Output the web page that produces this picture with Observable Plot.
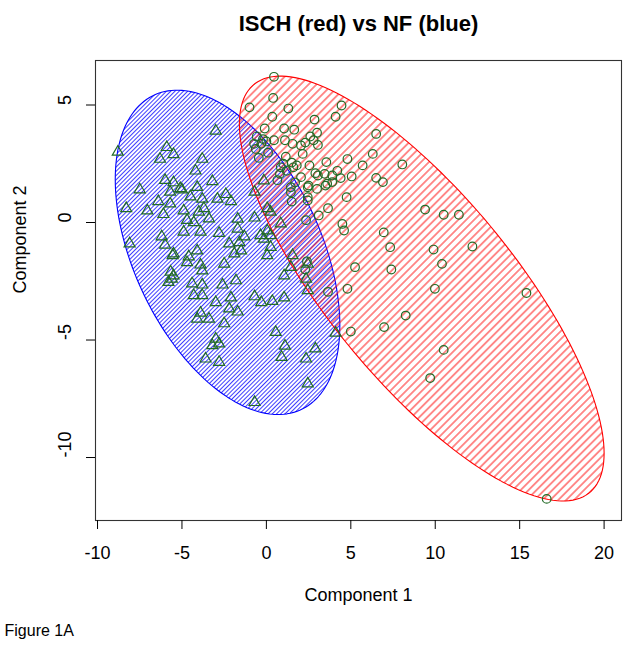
<!DOCTYPE html>
<html><head><meta charset="utf-8">
<script src="https://cdn.jsdelivr.net/npm/d3@7"></script>
<script src="https://cdn.jsdelivr.net/npm/@observablehq/plot@0.6"></script>
<style>html,body{margin:0;padding:0;background:#fff} svg{display:block}</style>
</head><body><div id="chart"></div>
<script>
// NF (blue ellipse) – triangles: [Component 1, Component 2]
const nfPoints = [
[-8.8,3.0],[-5.9,3.2],[-5.5,2.9],[-6.3,2.7],[-3.0,3.9],[-3.8,2.7],[-4.2,2.2],[-7.5,1.4],[-6.0,1.8],[-5.5,1.7],
[-5.1,1.45],[-4.1,1.5],[-3.2,1.75],[-5.7,1.3],[-5.0,1.4],[-4.5,1.1],[-2.4,1.2],[-2.9,1.0],[-2.1,0.9],[-6.4,0.9],
[-5.7,0.8],[-8.3,0.6],[-7.05,0.5],[-6.1,0.35],[-3.7,0.6],[-4.0,0.45],[-3.4,0.16],[-4.7,0.1],[-4.3,0.0],[-1.7,0.15],
[-0.7,0.2],[-0.15,1.78],[-0.7,1.3],[-3.8,1.0],[-4.9,0.5],[-4.9,-0.4],[-3.9,-0.4],[-2.8,-0.45],[-1.7,-0.27],[-1.3,-0.6],
[-0.35,-0.55],[0.05,-0.35],[-6.2,-0.6],[-6.0,-0.95],[-8.1,-0.9],[-5.5,-1.33],[-2.2,-0.9],[-1.6,-0.85],[-1.5,-1.2],[-0.15,-0.7],
[0.05,-1.4],[-4.1,-1.2],[-4.7,-1.7],[-3.9,-1.8],[-2.5,-1.76],[-3.8,-2.05],[-5.67,-2.1],[-5.5,-2.26],[-5.8,-2.54],[-5.6,-2.4],
[-4.4,-2.6],[-3.8,-2.65],[-2.6,-2.65],[-1.8,-2.47],[-4.3,-3.1],[-3.8,-3.1],[-3.0,-3.4],[-2.1,-3.2],[-0.7,-3.15],[-0.3,-3.4],
[0.35,-3.35],[1.05,-3.2],[-1.7,-3.8],[-2.2,-3.67],[-4.1,-4.1],[-3.9,-3.85],[-3.4,-4.1],[-2.5,-4.3],[0.55,-4.67],[4.1,-4.7],
[-3.0,-4.95],[-3.2,-5.23],[-2.8,-5.16],[-3.6,-5.8],[-2.8,-5.94],[1.1,-5.25],[0.9,-5.73],[2.35,-5.8],[2.9,-5.37],[2.45,-6.86],
[-0.7,-7.65],[0.85,-0.05],[0.25,-0.55],[0.25,-1.05],[1.55,-1.4],[1.45,-1.9],[1.05,-2.26],[2.45,-1.76],[2.35,-2.4],[2.45,-2.89],
[-1.9,-1.33],[0.25,0.45],[0.05,0.6],[-5.55,-1.4],[-4.6,-1.45]
];
// ISCH (red ellipse) – circles
const ischPoints = [
[0.45,6.2],[0.4,5.3],[-1.0,4.9],[1.3,4.85],[4.45,4.98],[4.1,4.5],[0.35,4.5],[2.85,4.38],[-0.1,4.0],[1.05,4.0],
[1.65,3.95],[3.0,3.82],[2.6,3.66],[6.5,3.77],[-0.57,3.66],[-0.73,3.35],[-0.3,3.35],[0.45,3.5],[1.1,3.5],[1.55,3.35],
[2.05,3.28],[2.8,3.5],[3.05,3.3],[0.1,2.97],[-0.45,2.75],[1.15,2.8],[2.15,2.92],[4.8,2.7],[6.3,2.92],[8.05,2.47],
[1.0,2.5],[1.5,2.55],[1.8,2.43],[0.85,2.35],[2.55,2.43],[3.55,2.57],[4.2,2.2],[5.7,2.43],[0.8,2.07],[2.05,1.93],
[2.9,2.1],[3.05,2.0],[3.45,2.07],[3.9,2.0],[4.4,1.89],[5.05,1.96],[6.5,1.9],[6.9,1.72],[1.45,1.5],[2.45,1.5],
[3.0,1.43],[3.6,1.65],[1.45,1.29],[2.45,1.08],[2.45,0.94],[4.75,1.08],[1.5,0.89],[3.65,0.61],[3.1,0.3],[2.35,0.1],
[4.5,-0.06],[4.6,-0.34],[6.95,-0.42],[7.33,-1.05],[5.25,-1.9],[7.4,-2.0],[4.8,-2.82],[3.65,-2.95],[2.4,-1.65],[2.3,-2.0],
[8.25,-3.96],[6.97,-4.45],[5.0,-4.64],[9.4,0.55],[10.5,0.33],[11.4,0.33],[9.9,-1.15],[12.2,-1.02],[10.4,-1.76],[9.98,-2.82],
[15.4,-3.0],[10.5,-5.42],[9.7,-6.62],[16.6,-11.76],[-0.63,3.13],[1.2,2.2],[1.6,2.35],[0.65,1.8],[2.5,1.57],[3.5,1.57],
[3.9,1.72],[-0.2,3.55],[0.0,3.45],[2.3,3.4],[1.7,1.7]
];
// Cluster ellipses: centre, half-extent along x and y, coupling (cos of phase)
const ellipseGroups   = ["NF", "ISCH"];
const ellipseCenterX  = [-2.3, 9.2];
const ellipseCenterY  = [-1.27, -2.81];
const ellipseHalfX    = [6.65, 10.8];
const ellipseHalfY    = [6.9, 9.04];
const ellipseCoupling = [0.45, 0.775];

const xTicks = [-10, -5, 0, 5, 10, 15, 20];
const yTicks = [5, 0, -5, -10];
const titleText = "ISCH (red) vs NF (blue)";
const xLabel = "Component 1";
const yLabel = "Component 2";
const captionText = "Figure 1A";

function ellipsePath(i) {
  const out = [];
  const phi = Math.acos(ellipseCoupling[i]);
  const n = 180;
  for (let k = 0; k <= n; k++) {
    const t = 2 * Math.PI * k / n;
    out.push({x: ellipseCenterX[i] + ellipseHalfX[i] * Math.cos(t),
              y: ellipseCenterY[i] - ellipseHalfY[i] * Math.cos(t + phi)});
  }
  return out;
}
const blueEllipse = ellipsePath(0);
const redEllipse = ellipsePath(1);

const font = "'Liberation Sans', Arial, Helvetica, sans-serif";
const ptColor = "#226b26";

const svg = Plot.plot({
  width: 629, height: 656,
  marginLeft: 95, marginRight: 8, marginTop: 60, marginBottom: 136,
  style: {fontFamily: font, background: "#fff", color: "#000"},
  x: {domain: [-10.12, 21.03]},
  y: {domain: [-12.68, 6.894]},
  marks: [
    Plot.line(blueEllipse, {x: "x", y: "y", fill: "url(#hatchBlue)", stroke: "#0000ff", strokeWidth: 1.1}),
    Plot.line(redEllipse, {x: "x", y: "y", fill: "url(#hatchRed)", stroke: "#ff0000", strokeWidth: 1.1}),
    Plot.dot(nfPoints, {x: d => d[0], y: d => d[1], symbol: "triangle", r: 4.1, stroke: ptColor, strokeWidth: 1.2, fill: "none"}),
    Plot.dot(ischPoints, {x: d => d[0], y: d => d[1], symbol: "circle", r: 4.3, stroke: ptColor, strokeWidth: 1.2, fill: "none"}),
    Plot.frame({stroke: "#333", strokeWidth: 1.1}),
    Plot.axisX({ticks: xTicks, tickSize: 9, tickPadding: 17, fontSize: 18, tickFormat: d => String(d), label: null}),
    Plot.axisY({ticks: yTicks, tickSize: 9, tickFormat: () => "", label: null}),
    Plot.text(yTicks, {y: d => d, text: d => String(d), frameAnchor: "left", dx: -30, rotate: -90, fontSize: 18}),
    Plot.text([yLabel], {text: d => d, frameAnchor: "left", dx: -75, dy: 3, rotate: -90, fontSize: 18}),
    Plot.text([xLabel], {text: d => d, frameAnchor: "bottom", dy: 80, fontSize: 18}),
    Plot.text([titleText], {text: d => d, frameAnchor: "top", dy: -45, fontSize: 22, fontWeight: "bold"}),
    Plot.text([captionText], {text: d => d, frameAnchor: "bottom-left", dx: -91, dy: 115, textAnchor: "start", fontSize: 16})
  ]
});

// hatch patterns
const ns = "http://www.w3.org/2000/svg";
const defs = document.createElementNS(ns, "defs");
function mkPattern(id, spacing, color, w) {
  const p = document.createElementNS(ns, "pattern");
  p.setAttribute("id", id);
  p.setAttribute("patternUnits", "userSpaceOnUse");
  p.setAttribute("width", spacing);
  p.setAttribute("height", spacing);
  p.setAttribute("patternTransform", "rotate(45)");
  const l = document.createElementNS(ns, "line");
  l.setAttribute("x1", spacing / 2); l.setAttribute("y1", -1);
  l.setAttribute("x2", spacing / 2); l.setAttribute("y2", spacing + 1);
  l.setAttribute("stroke", color); l.setAttribute("stroke-width", w);
  p.appendChild(l);
  defs.appendChild(p);
}
mkPattern("hatchBlue", 3.0, "#1a1aff", 0.85);
mkPattern("hatchRed", 5.6, "#ff1010", 0.95);
svg.insertBefore(defs, svg.firstChild);

document.getElementById("chart").appendChild(svg);
</script>
</body></html>
